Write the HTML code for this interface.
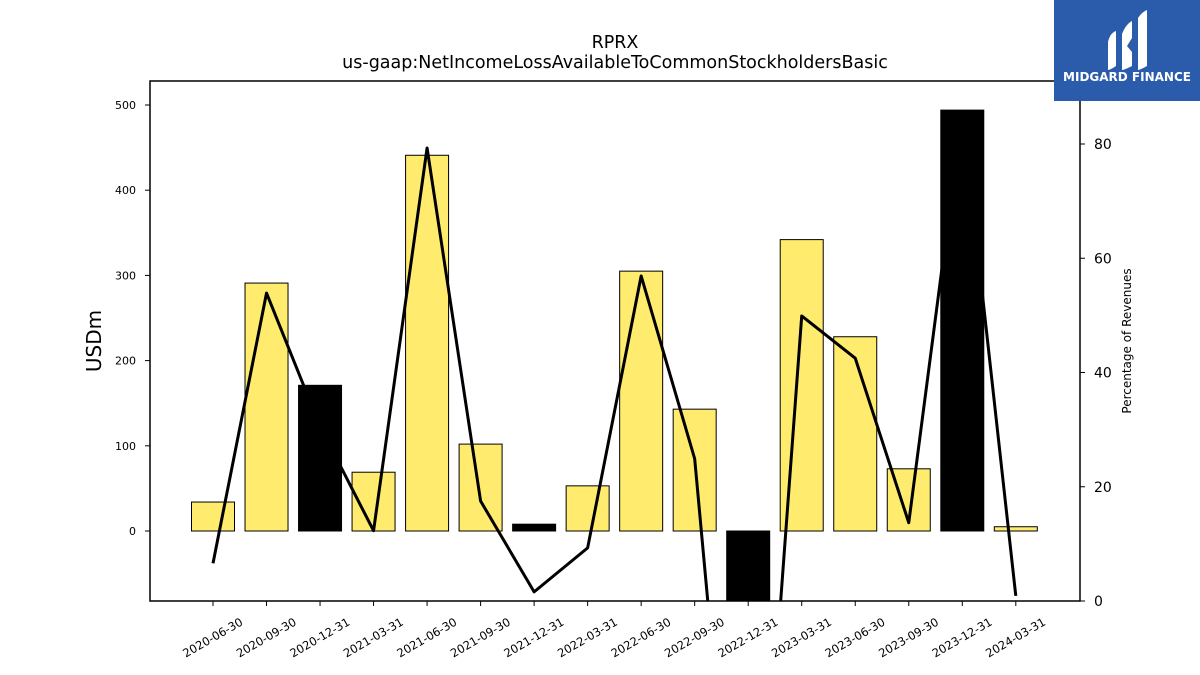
<!DOCTYPE html>
<html><head><meta charset="utf-8"><style>
html,body{margin:0;background:#fff;font-family:"Liberation Sans",sans-serif;width:1200px;height:675px;overflow:hidden}
svg{display:block}
svg text{font-family:"DejaVu Sans","Liberation Sans",sans-serif}
</style></head><body>
<svg width="1200" height="675" viewBox="0 0 1200 675">
<text x="615" y="48" text-anchor="middle" font-size="17.5">RPRX</text>
<text x="615" y="68" text-anchor="middle" font-size="17.5">us-gaap:NetIncomeLossAvailableToCommonStockholdersBasic</text>
<g id="plot"></g>
<rect x="150" y="81" width="930" height="520" fill="none" stroke="#000" stroke-width="1.5"/>
<text transform="translate(101,341) rotate(-90)" text-anchor="middle" font-size="20">USDm</text>
<text transform="translate(1131,341) rotate(-90)" text-anchor="middle" font-size="12">Percentage of Revenues</text>
<g>
<rect x="1054" y="0" width="146" height="101" fill="#2b5bab"/>
<path d="M1108 42 Q1110 33 1116 31 L1116 66 Q1110 70 1108 70 Z" fill="#fff"/>
<path d="M1122 34 Q1126 24 1132 21 L1132 38 L1127 46 L1132 52 L1132 66 Q1124 70 1122 70 Z" fill="#fff"/>
<path d="M1138 18 Q1142 12 1147 10 L1147 66 Q1140 70 1138 70 Z" fill="#fff"/>
<text x="1127" y="81" text-anchor="middle" font-size="12" font-weight="bold" fill="#fff" font-family="Liberation Sans">MIDGARD FINANCE</text>
</g>
</svg>
<script>
const categories=["2020-06-30","2020-09-30","2020-12-31","2021-03-31","2021-06-30","2021-09-30","2021-12-31","2022-03-31","2022-06-30","2022-09-30","2022-12-31","2023-03-31","2023-06-30","2023-09-30","2023-12-31","2024-03-31"];
const netIncome=[34,291,171,69,441,102,8,53,305,143,-150,342,228,73,494,5];
const highlight=[0,0,1,0,0,0,1,0,0,0,1,0,0,0,1,0];
const pctRevenue=[6.6,53.9,30.6,12.3,79.3,17.5,1.6,9.3,56.9,24.9,-77,49.9,42.5,13.7,85.5,0.9];
const leftTicks=[0,100,200,300,400,500];
const rightTicks=[0,20,40,60,80];
const NS="http://www.w3.org/2000/svg";
const X0=150,X1=1080,Y0=81,Y1=601;
const yL=v=>531-v*0.852;
const yR=v=>601-v*5.7125;
const xC=i=>213+i*53.52;
const g=document.getElementById('plot');
function mk(t,a){const e=document.createElementNS(NS,t);for(const k in a)e.setAttribute(k,a[k]);return e;}
const clip=mk('clipPath',{id:'c'});clip.appendChild(mk('rect',{x:X0,y:Y0,width:X1-X0,height:Y1-Y0}));g.appendChild(clip);
const inner=mk('g',{'clip-path':'url(#c)'});g.appendChild(inner);
categories.forEach((c,i)=>{
 const v=netIncome[i],t=Math.min(yL(v),yL(0)),h=Math.abs(yL(v)-yL(0));
 const r=mk('rect',{x:xC(i)-21.5,y:t,width:43,height:h,fill:highlight[i]?'#000':'#ffeb6e',stroke:'#000','stroke-width':1});
 
 
 inner.appendChild(r);
});
const pts=pctRevenue.map((v,i)=>xC(i)+','+yR(v)).join(' ');
const line=mk('polyline',{points:pts,fill:'none',stroke:'#000','stroke-width':3,'stroke-linejoin':'round'});


inner.appendChild(line);
categories.forEach((c,i)=>{if(!highlight[i])return;
 const v=netIncome[i],t=Math.min(yL(v),yL(0)),h=Math.abs(yL(v)-yL(0));
 const r=mk('rect',{x:xC(i)-21.5,y:t,width:43,height:h,fill:'#000'});
 
 
 inner.appendChild(r);});
leftTicks.forEach(v=>{const y=yL(v);
 g.appendChild(mk('line',{x1:X0-5,x2:X0,y1:y,y2:y,stroke:'#000'}));
 const t=mk('text',{x:X0-14,y:y+4,'text-anchor':'end','font-size':11});t.textContent=v;
 
 
 g.appendChild(t);});
rightTicks.forEach(v=>{const y=yR(v);
 g.appendChild(mk('line',{x1:X1,x2:X1+5,y1:y,y2:y,stroke:'#000'}));
 const t=mk('text',{x:X1+14,y:y+5,'font-size':14});t.textContent=v;
 
 
 g.appendChild(t);});
categories.forEach((c,i)=>{const x=xC(i);
 g.appendChild(mk('line',{x1:x,x2:x,y1:Y1,y2:Y1+5,stroke:'#000'}));
 const t=mk('text',{transform:`translate(${x},${Y1+37}) rotate(-30)`,'text-anchor':'middle','font-size':11.5,'dominant-baseline':'middle'});t.textContent=c;
 
 
 g.appendChild(t);});
</script>
</body></html>
